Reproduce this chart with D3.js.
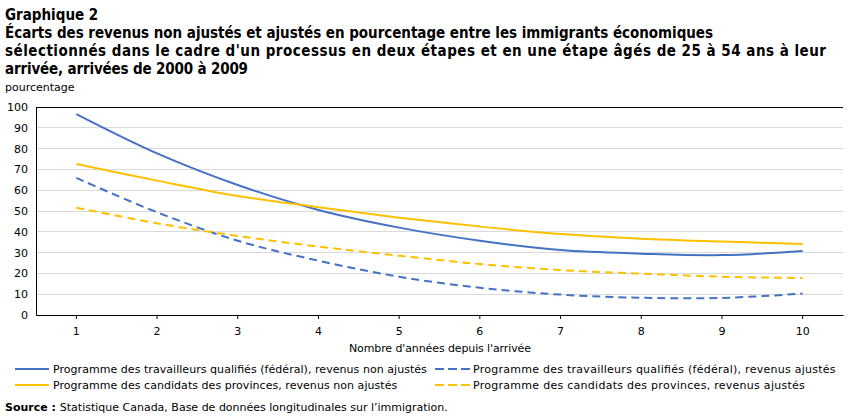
<!DOCTYPE html>
<html><head><meta charset="utf-8">
<script src="https://cdn.jsdelivr.net/npm/d3@7"></script>
<style>body{margin:0;background:#fff}svg{display:block}text{font-family:Verdana,"DejaVu Sans",sans-serif}</style>
</head><body><svg id="c" width="851" height="417"></svg>
<script>
const years = ["1","2","3","4","5","6","7","8","9","10"];
const fswUnadj = [96.6,77.7,62.5,50.5,42.0,35.7,31.2,29.5,28.8,30.8];
const fswAdj   = [65.9,49.4,35.7,26.1,18.4,13.1,9.8,8.3,8.2,10.3];
const pnpUnadj = [72.6,64.6,57.2,51.8,46.8,42.5,38.9,36.7,35.3,34.1];
const pnpAdj   = [51.6,44.1,38.0,32.9,28.5,24.5,21.6,19.9,18.4,17.8];
const yTicks = [0,10,20,30,40,50,60,70,80,90,100];
const seriesNames = [
  "Programme des travailleurs qualifiés (fédéral), revenus non ajustés",
  "Programme des travailleurs qualifiés (fédéral), revenus ajustés",
  "Programme des candidats des provinces, revenus non ajustés",
  "Programme des candidats des provinces, revenus ajustés"
];
const titleLines = [
  "Graphique  2",
  "Écarts des revenus non ajustés et ajustés en pourcentage entre les immigrants économiques",
  "sélectionnés dans le cadre d'un processus en deux étapes et en une étape âgés de 25 à 54 ans à leur",
  "arrivée, arrivées de 2000 à 2009"
];
const blue = "#4472C4", gold = "#FFC000";
const series = [
  {name: seriesNames[0], values: fswUnadj, color: blue, dash: null},
  {name: seriesNames[1], values: fswAdj, color: blue, dash: "8,5"},
  {name: seriesNames[2], values: pnpUnadj, color: gold, dash: null},
  {name: seriesNames[3], values: pnpAdj, color: gold, dash: "8,5"}
];

const svg = d3.select("#c");
const L = 36, R = 843, T = 107, B = 315;
const x = d3.scaleBand().domain(years).range([L, R]);
const y = d3.scaleLinear().domain([0, 100]).range([B, T]);

// title
const titleWidths = [null, 708, 821, 243];
const tt = svg.append("g").attr("font-weight","bold").attr("font-size",15).attr("fill","#000");
titleLines.forEach((t,i)=>{
  const el = tt.append("text").attr("x",5).attr("y",20+i*18).text(t)
    .style("font-family","'DejaVu Sans Condensed','DejaVu Sans',sans-serif");
  if (titleWidths[i]) el.attr("textLength",titleWidths[i]).attr("lengthAdjust","spacing");
});
svg.append("text").attr("x",5).attr("y",91).attr("font-size",11).text("pourcentage");

// gridlines
svg.append("g").selectAll("line").data(yTicks.filter(d=>d>0 && d<100)).join("line")
  .attr("x1",L).attr("x2",R).attr("y1",d=>y(d)).attr("y2",d=>y(d))
  .attr("stroke","#d9d9d9").attr("stroke-width",1).attr("shape-rendering","crispEdges");
svg.append("line").attr("x1",L).attr("x2",R).attr("y1",y(100)).attr("y2",y(100))
  .attr("stroke","#000").attr("shape-rendering","crispEdges");

// y axis
const ya = svg.append("g").attr("transform",`translate(${L},0)`)
  .call(d3.axisLeft(y).tickValues(yTicks).tickSize(0).tickPadding(8));
ya.select(".domain").attr("stroke","#000");
ya.selectAll("text").attr("font-size",11).attr("fill","#000").style("font-family","Verdana,'DejaVu Sans',sans-serif");

// x axis
const xa = svg.append("g").attr("transform",`translate(0,${B})`)
  .call(d3.axisBottom(x).tickSize(4).tickSizeOuter(0).tickPadding(8));
xa.select(".domain").attr("stroke","#000");
xa.selectAll("line").attr("stroke","#000");
xa.selectAll("text").attr("font-size",11).attr("fill","#000").style("font-family","Verdana,'DejaVu Sans',sans-serif");
svg.append("text").attr("x",440).attr("y",352).attr("text-anchor","middle").attr("font-size",11)
  .attr("textLength",182).attr("lengthAdjust","spacing")
  .text("Nombre d'années depuis l'arrivée");

// lines
const line = d3.line().x((d,i)=>x(years[i])+x.bandwidth()/2).y(d=>y(d)).curve(d3.curveCatmullRom.alpha(0.5));
svg.append("g").selectAll("path").data(series).join("path")
  .attr("d",d=>line(d.values)).attr("fill","none").attr("stroke",d=>d.color)
  .attr("stroke-width",2).attr("stroke-dasharray",d=>d.dash);

// legend
const lpos = [[15,369,49,53],[435,369,471,473],[15,385,49,53],[435,385,471,473]];
const colScale = [374/371, 365/349];
const lg = svg.append("g");
series.forEach((s,i)=>{
  const [x1,ly,x2,tx] = lpos[i];
  lg.append("line").attr("x1",x1).attr("x2",x2).attr("y1",ly).attr("y2",ly)
    .attr("stroke",s.color).attr("stroke-width",2).attr("stroke-dasharray",s.dash?"9,4":null);
  const t = lg.append("text").attr("x",tx).attr("y",ly+4).attr("font-size",11).text(s.name);
  const w = t.node().getComputedTextLength();
  t.attr("textLength", w*colScale[i%2]).attr("lengthAdjust","spacing");
});

// source
const src = svg.append("text").attr("x",5).attr("y",411).attr("font-size",11);
src.append("tspan").attr("font-weight","bold").text("Source : ");
src.append("tspan").text("Statistique Canada, Base de données longitudinales sur l’immigration.");
</script></body></html>
